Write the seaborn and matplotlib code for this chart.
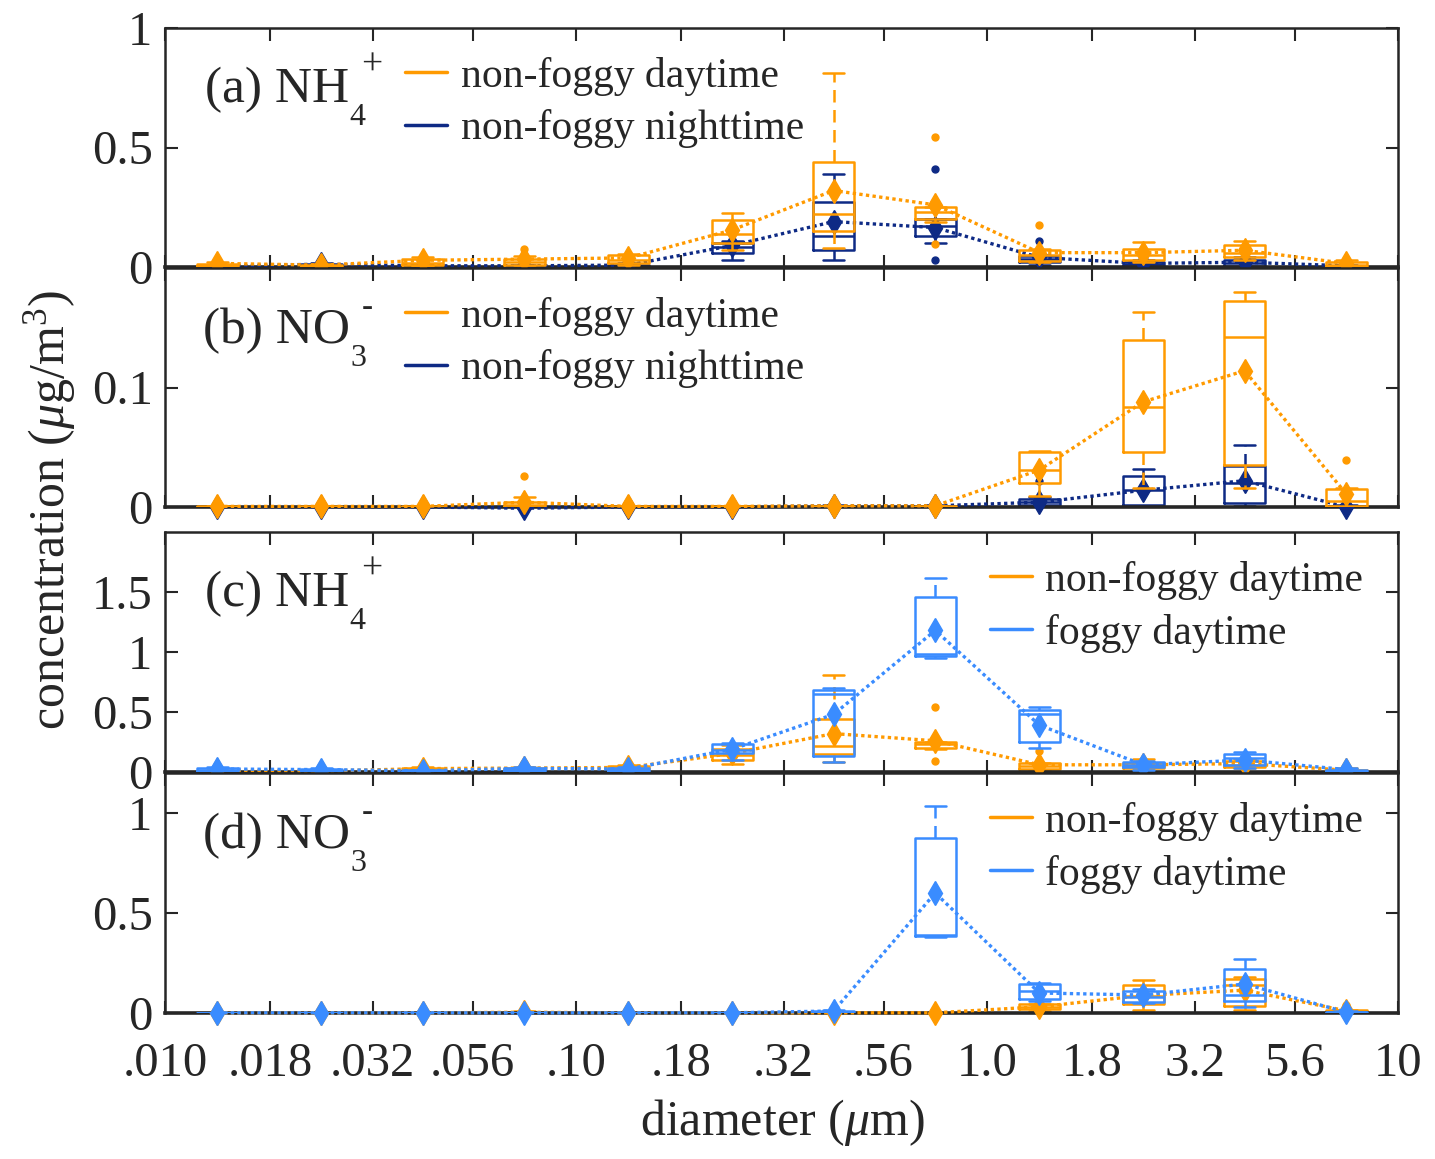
import numpy as np
import matplotlib
matplotlib.use('Agg')
import matplotlib.pyplot as plt
from matplotlib.lines import Line2D
import seaborn as sns

sns.set_theme(style="ticks")
plt.rcParams['font.family'] = ['Liberation Serif', 'DejaVu Serif']
plt.rcParams['mathtext.fontset'] = 'custom'
plt.rcParams['mathtext.rm'] = 'Liberation Serif'
plt.rcParams['mathtext.it'] = 'Liberation Serif:italic'

# stage cut-off diameters (um) and tick labels
edge_labels = ['.010', '.018', '.032', '.056', '.10', '.18', '.32', '.56',
               '1.0', '1.8', '3.2', '5.6', '10']

# NH4+ non-foggy daytime (panels a and c)
nh4_day_lo = [0.002, 0.001, 0.003, 0.002, 0.01, 0.07, 0.08, 0.19, 0.02, 0.02, 0.03, 0.002]
nh4_day_q1 = [0.004, 0.002, 0.008, 0.008, 0.017, 0.10, 0.15, 0.20, 0.027, 0.03, 0.043, 0.005]
nh4_day_med = [0.008, 0.005, 0.018, 0.02, 0.03, 0.14, 0.22, 0.23, 0.05, 0.05, 0.06, 0.01]
nh4_day_q3 = [0.012, 0.008, 0.035, 0.035, 0.05, 0.195, 0.44, 0.25, 0.072, 0.075, 0.094, 0.02]
nh4_day_hi = [0.02, 0.012, 0.04, 0.045, 0.055, 0.225, 0.81, 0.25, 0.075, 0.105, 0.107, 0.03]
nh4_day_mean = [0.015, 0.008, 0.028, 0.033, 0.038, 0.155, 0.32, 0.26, 0.06, 0.06, 0.07, 0.015]
nh4_day_out = [[], [], [], [0.075], [], [], [], [0.545, 0.095], [0.175], [], [], []]

# NH4+ non-foggy nighttime (panel a)
nh4_night_lo = [0.0, 0.001, 0.0, 0.0, 0.0, 0.03, 0.03, 0.10, 0.01, 0.0, 0.0, 0.0]
nh4_night_q1 = [0.001, 0.004, 0.001, 0.001, 0.002, 0.06, 0.07, 0.13, 0.02, 0.005, 0.005, 0.001]
nh4_night_med = [0.002, 0.008, 0.003, 0.003, 0.005, 0.085, 0.13, 0.17, 0.035, 0.012, 0.015, 0.003]
nh4_night_q3 = [0.004, 0.012, 0.006, 0.006, 0.01, 0.10, 0.27, 0.20, 0.045, 0.02, 0.03, 0.006]
nh4_night_hi = [0.006, 0.015, 0.008, 0.008, 0.015, 0.11, 0.39, 0.20, 0.05, 0.03, 0.04, 0.01]
nh4_night_mean = [0.003, 0.012, 0.005, 0.005, 0.008, 0.09, 0.19, 0.165, 0.04, 0.015, 0.02, 0.005]
nh4_night_out = [[], [], [], [], [], [], [], [0.41, 0.03], [0.11], [], [], []]

# NO3- non-foggy daytime (panels b and d)
no3_day_lo = [0.0, 0.0, 0.0, 0.0, 0.0, 0.0, 0.0, 0.0, 0.009, 0.016, 0.016, 0.0]
no3_day_q1 = [0.0, 0.0, 0.0, 0.0, 0.0, 0.0, 0.0, 0.0, 0.02, 0.046, 0.035, 0.001]
no3_day_med = [0.0, 0.0, 0.0, 0.002, 0.0, 0.0, 0.0, 0.0, 0.031, 0.084, 0.142, 0.005]
no3_day_q3 = [0.0005, 0.0005, 0.0005, 0.004, 0.0005, 0.0005, 0.0005, 0.0005, 0.046, 0.14, 0.172, 0.015]
no3_day_hi = [0.001, 0.001, 0.001, 0.008, 0.001, 0.001, 0.001, 0.001, 0.047, 0.163, 0.18, 0.016]
no3_day_mean = [0.0005, 0.0005, 0.0005, 0.004, 0.0005, 0.0005, 0.001, 0.001, 0.031, 0.088, 0.114, 0.011]
no3_day_out = [[], [], [], [0.026], [], [], [], [], [], [], [], [0.039]]

# NO3- non-foggy nighttime (panel b)
no3_night_lo = [0.0, 0.0, 0.0, 0.0, 0.0, 0.0, 0.0, 0.0, 0.0, 0.0, 0.001, 0.0]
no3_night_q1 = [0.0, 0.0, 0.0, 0.0, 0.0, 0.0, 0.0, 0.0, 0.002, 0.002, 0.003, 0.0]
no3_night_med = [0.0, 0.0, 0.0, 0.0, 0.0, 0.0, 0.0, 0.0005, 0.004, 0.014, 0.02, 0.0]
no3_night_q3 = [0.0005, 0.0005, 0.0005, 0.0005, 0.0005, 0.0005, 0.001, 0.001, 0.007, 0.026, 0.034, 0.001]
no3_night_hi = [0.001, 0.001, 0.001, 0.001, 0.001, 0.001, 0.002, 0.002, 0.008, 0.032, 0.052, 0.002]
no3_night_mean = [0.0, 0.0, 0.0, -0.001, 0.0, 0.0, 0.001, 0.001, 0.004, 0.014, 0.022, 0.0]
no3_night_out = [[], [], [], [], [], [], [], [], [0.022], [], [], []]

# NH4+ foggy daytime (panel c)
nh4_fog_lo = [0.005, 0.005, 0.0, 0.005, 0.005, 0.10, 0.08, 0.95, 0.20, 0.02, 0.03, 0.0]
nh4_fog_q1 = [0.01, 0.01, 0.003, 0.01, 0.01, 0.16, 0.13, 0.97, 0.25, 0.04, 0.06, 0.005]
nh4_fog_med = [0.02, 0.015, 0.008, 0.02, 0.02, 0.18, 0.65, 0.98, 0.48, 0.06, 0.12, 0.01]
nh4_fog_q3 = [0.03, 0.025, 0.015, 0.035, 0.03, 0.23, 0.68, 1.46, 0.52, 0.08, 0.15, 0.02]
nh4_fog_hi = [0.04, 0.035, 0.02, 0.045, 0.04, 0.24, 0.70, 1.62, 0.545, 0.09, 0.17, 0.03]
nh4_fog_mean = [0.025, 0.02, 0.01, 0.03, 0.025, 0.19, 0.48, 1.18, 0.39, 0.06, 0.10, 0.02]
nh4_fog_out = [[], [], [], [], [], [], [], [], [], [], [], []]

# NO3- foggy daytime (panel d)
no3_fog_lo = [0.0, 0.0, 0.0, 0.0, 0.0, 0.0, 0.0, 0.38, 0.06, 0.05, 0.03, 0.0]
no3_fog_q1 = [0.0, 0.0, 0.0, 0.0, 0.0, 0.0, 0.003, 0.385, 0.07, 0.055, 0.06, 0.001]
no3_fog_med = [0.0, 0.0, 0.0, 0.0, 0.0, 0.0, 0.006, 0.39, 0.11, 0.08, 0.09, 0.003]
no3_fog_q3 = [0.001, 0.001, 0.001, 0.001, 0.001, 0.001, 0.012, 0.873, 0.145, 0.11, 0.22, 0.006]
no3_fog_hi = [0.002, 0.002, 0.002, 0.002, 0.002, 0.002, 0.015, 1.035, 0.15, 0.12, 0.268, 0.008]
no3_fog_mean = [0.001, 0.001, 0.001, 0.001, 0.001, 0.001, 0.01, 0.60, 0.10, 0.09, 0.145, 0.004]
no3_fog_out = [[], [], [], [], [], [], [], [], [], [], [], []]

c_day = '#FF9A00'
c_night = '#0E2A85'
c_fog = '#3A8CFF'

edges = np.log10([float(s) for s in edge_labels])
mids = (edges[:-1] + edges[1:]) / 2

W, H = 1435, 1159
fig = plt.figure(figsize=(W / 100, H / 100), dpi=100)


def px_rect(top, bottom, left=165, right=1398):
    return [left / W, 1 - bottom / H, (right - left) / W, (bottom - top) / H]


def draw_series(ax, lo, q1, med, q3, hi, mean, out, color, z):
    stats = []
    for i in range(len(mids)):
        stats.append(dict(whislo=lo[i], q1=q1[i], med=med[i], q3=q3[i],
                          whishi=hi[i], fliers=out[i]))
    ax.bxp(stats, positions=mids, widths=0.1, capwidths=0.05, showfliers=True,
           manage_ticks=False, zorder=z,
           boxprops=dict(color=color, lw=1.8),
           whiskerprops=dict(color=color, lw=1.8, ls=(0, (5, 3))),
           capprops=dict(color=color, lw=1.8),
           medianprops=dict(color=color, lw=1.8),
           flierprops=dict(marker='o', markersize=5, markerfacecolor=color,
                           markeredgecolor=color, linestyle='none'))
    sns.lineplot(x=mids, y=mean, ax=ax, color=color, linestyle=(0, (1, 1)),
                 linewidth=2.4, marker='d', markersize=12, markeredgecolor=color,
                 markeredgewidth=1, zorder=z + 1, legend=False, clip_on=False)


panels = [
    dict(rect=px_rect(28, 267), ylim=(0, 1), yticks=[0, 0.5, 1], ylabels=['0', '0.5', '1'],
         s1=(nh4_day_lo, nh4_day_q1, nh4_day_med, nh4_day_q3, nh4_day_hi, nh4_day_mean, nh4_day_out),
         s2=(nh4_night_lo, nh4_night_q1, nh4_night_med, nh4_night_q3, nh4_night_hi, nh4_night_mean, nh4_night_out),
         c2=c_night, names=['non-foggy daytime', 'non-foggy nighttime'], day_on_top=True,
         label=('(a) NH', '4', '+'), lab_xy=(205, 102), leg_x=0.195),
    dict(rect=px_rect(268, 507), ylim=(0, 0.2), yticks=[0, 0.1], ylabels=['0', '0.1'],
         s1=(no3_day_lo, no3_day_q1, no3_day_med, no3_day_q3, no3_day_hi, no3_day_mean, no3_day_out),
         s2=(no3_night_lo, no3_night_q1, no3_night_med, no3_night_q3, no3_night_hi, no3_night_mean, no3_night_out),
         c2=c_night, names=['non-foggy daytime', 'non-foggy nighttime'], day_on_top=True,
         label=('(b) NO', '3', '-'), lab_xy=(203, 343), leg_x=0.195),
    dict(rect=px_rect(532, 772), ylim=(0, 2), yticks=[0, 0.5, 1, 1.5], ylabels=['0', '0.5', '1', '1.5'],
         s1=(nh4_day_lo, nh4_day_q1, nh4_day_med, nh4_day_q3, nh4_day_hi, nh4_day_mean, nh4_day_out),
         s2=(nh4_fog_lo, nh4_fog_q1, nh4_fog_med, nh4_fog_q3, nh4_fog_hi, nh4_fog_mean, nh4_fog_out),
         c2=c_fog, names=['non-foggy daytime', 'foggy daytime'], day_on_top=False,
         label=('(c) NH', '4', '+'), lab_xy=(205, 606), leg_x=0.669),
    dict(rect=px_rect(773, 1013), ylim=(0, 1.2), yticks=[0, 0.5, 1], ylabels=['0', '0.5', '1'],
         s1=(no3_day_lo, no3_day_q1, no3_day_med, no3_day_q3, no3_day_hi, no3_day_mean, no3_day_out),
         s2=(no3_fog_lo, no3_fog_q1, no3_fog_med, no3_fog_q3, no3_fog_hi, no3_fog_mean, no3_fog_out),
         c2=c_fog, names=['non-foggy daytime', 'foggy daytime'], day_on_top=False,
         label=('(d) NO', '3', '-'), lab_xy=(203, 848), leg_x=0.669),
]

main_texts = []
for k, p in enumerate(panels):
    ax = fig.add_axes(p['rect'])
    if p['day_on_top']:
        draw_series(ax, *p['s2'], p['c2'], 2)
        draw_series(ax, *p['s1'], c_day, 3)
    else:
        draw_series(ax, *p['s1'], c_day, 2)
        draw_series(ax, *p['s2'], p['c2'], 3)

    ax.set_xlim(edges[0], edges[-1])
    ax.set_ylim(*p['ylim'])
    ax.set_xticks(edges)
    ax.set_yticks(p['yticks'])
    ax.set_yticklabels(p['ylabels'])
    if k == 3:
        ax.set_xticklabels(edge_labels)
    else:
        ax.set_xticklabels([])
    ax.set_xlabel('')
    ax.set_ylabel('')
    ax.tick_params(axis='both', direction='in', length=9, width=1.5, colors='#262626',
                   labelsize=35, top=True, right=True, labelcolor='#262626')
    ax.tick_params(axis='x', pad=21)
    ax.tick_params(axis='y', pad=9)
    for sp in ax.spines.values():
        sp.set_linewidth(1.8)
        sp.set_color('#262626')
    ax.spines['bottom'].set_linewidth(2.6)
    ax.set_facecolor('white')

    handles = [Line2D([], [], color=c_day, lw=2.5), Line2D([], [], color=p['c2'], lw=2.5)]
    ax.legend(handles, p['names'], loc='upper left', bbox_to_anchor=(p['leg_x'], 0.88),
              frameon=False, fontsize=30, borderpad=0, borderaxespad=0,
              handlelength=1.0, handletextpad=0.33, labelspacing=0.33)

    x0, y0 = p['lab_xy']
    t = fig.text(x0 / W, 1 - y0 / H, p['label'][0], fontsize=37, ha='left', va='baseline')
    main_texts.append((t, p))

fig.text(782 / W, 1 - 1122 / H, r'diameter ($\mu$m)', fontsize=36, ha='center', va='center',
         color='#262626')
fig.text(50 / W, 1 - 510 / H, r'concentration ($\mu$g/m$^3$)', fontsize=36, ha='center',
         va='center', rotation=90, color='#262626')

fig.canvas.draw()
renderer = fig.canvas.get_renderer()
for t, p in main_texts:
    ext = t.get_window_extent(renderer)
    x_end = ext.x1
    y_base = H - p['lab_xy'][1]
    sup_size = 27 if p['label'][2] == '+' else 24
    fig.text(x_end / W, (y_base - 23) / H, p['label'][1], fontsize=23, ha='left', va='baseline')
    fig.text((x_end + 12) / W, (y_base + 27) / H, p['label'][2], fontsize=sup_size,
             ha='left', va='baseline')

fig.savefig('out.png', dpi=100)
